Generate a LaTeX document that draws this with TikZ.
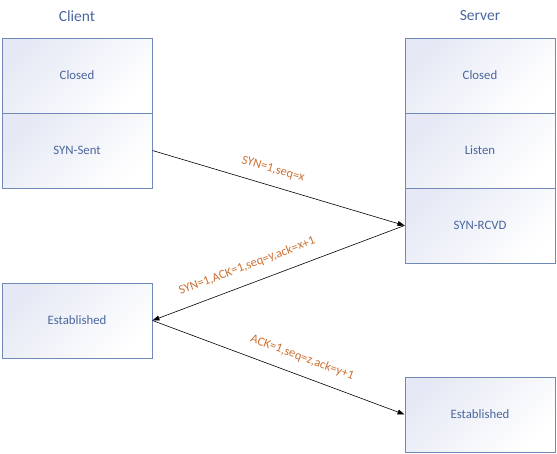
\documentclass[tikz,border=0pt]{standalone}
\usepackage{fontspec}
\setmainfont{Carlito}
\usetikzlibrary{arrows.meta}
\definecolor{boxline}{HTML}{6F89B8}
\definecolor{boxtext}{HTML}{4A669E}
\definecolor{lav}{HTML}{E6E9F5}
\definecolor{msg}{HTML}{CC7033}
\tikzset{
  state/.style={draw=boxline, line width=0.9pt, minimum width=150pt, minimum height=75pt,
    inner sep=0pt, left color=lav, right color=white, shading angle=45,
    text=boxtext, font=\fontsize{12.8}{14}\selectfont},
  title/.style={text=boxtext, font=\fontsize{15.5}{17}\selectfont},
  msgarrow/.style={draw=black, line width=0.6pt, -{Triangle[length=7pt,width=5pt]}},
  msglabel/.style={text=msg, font=\fontsize{12.5}{14}\selectfont, sloped, above, inner sep=0pt}
}
\begin{document}
\begin{tikzpicture}[x=1pt,y=-1pt]
\useasboundingbox (0,0) rectangle (557,453);
\node[title] (client) at (77,16) {Client};
\node[title] (server) at (480,16) {Server};
\node[state] (cclosed) at (77,75.5) {Closed};
\node[state] (csent) at (77,150.5) {SYN-Sent};
\node[state] (cest) at (77,320.5) {Established};
\node[state] (sclosed) at (480,75.5) {Closed};
\node[state] (slisten) at (480,150.5) {Listen};
\node[state] (srcvd) at (480,225.5) {SYN-RCVD};
\node[state] (sest) at (480,414.5) {Established};
\draw[msgarrow] (csent.east) -- node[msglabel, pos=0.46, yshift=11pt] {SYN=1,seq=x} (srcvd.west);
\draw[msgarrow] (srcvd.west) -- node[msglabel, pos=0.6, yshift=12pt] {SYN=1,ACK=1,seq=y,ack=x+1} (cest.east);
\draw[msgarrow] (cest.east) -- node[msglabel, pos=0.57, yshift=12pt] {ACK=1,seq=z,ack=y+1} (sest.west);
\end{tikzpicture}
\end{document}
